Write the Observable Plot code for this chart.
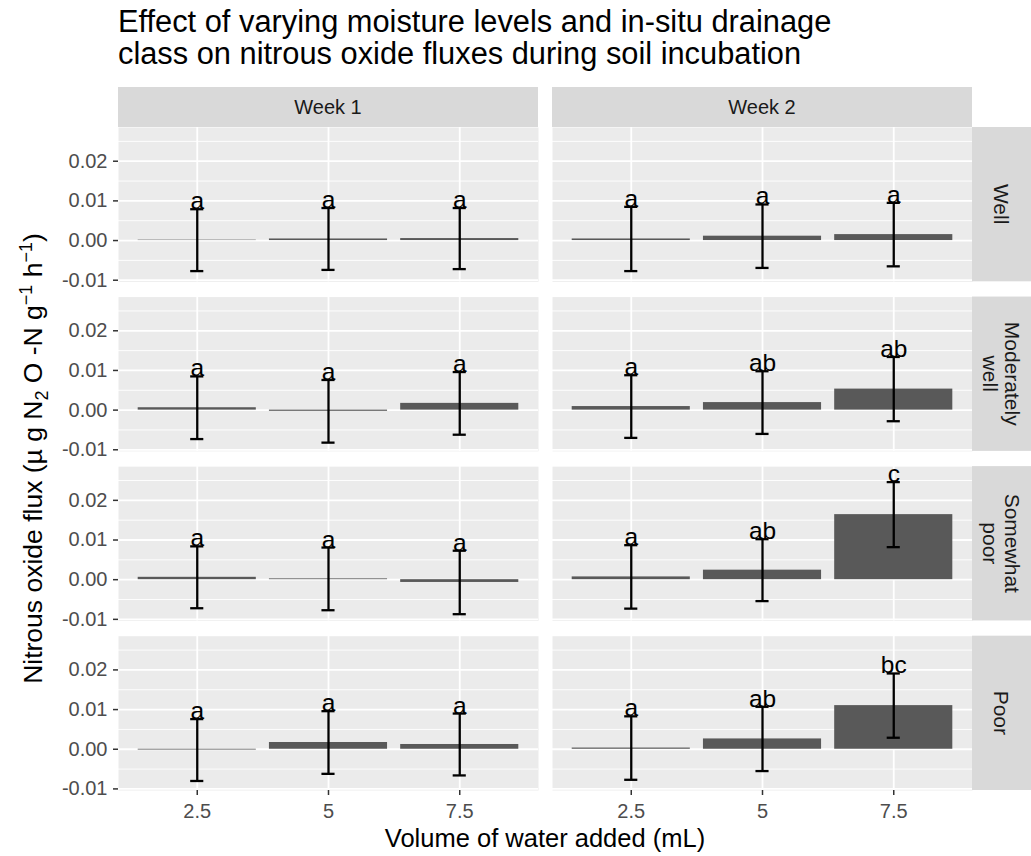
<!DOCTYPE html>
<html>
<head>
<meta charset="utf-8">
<script src="https://cdn.jsdelivr.net/npm/d3@7"></script>
<script src="https://cdn.jsdelivr.net/npm/@observablehq/plot@0.6"></script>
<style>
  body { margin: 0; background: #ffffff; font-family: "Liberation Sans", Arial, sans-serif; }
  #title { height: 80px; box-sizing: border-box; padding: 6px 0 0 118px; font-size: 30.8px; line-height: 32px; color: #000; white-space: nowrap; }
  #chart svg { display: block; }
</style>
</head>
<body>
<div id="title">Effect of varying moisture levels and in-situ drainage<br>class on nitrous oxide fluxes during soil incubation</div>
<div id="chart"></div>
<script>
// ---- data ----
const weeks = ["Week 1", "Week 2"];
const drainage = ["Well", "Moderately well", "Somewhat poor", "Poor"];
const drainageStrip = [["Well"], ["Moderately", "well"], ["Somewhat", "poor"], ["Poor"]];
const volumes = ["2.5", "5", "7.5"];

// order: drainage class (Well, Moderately well, Somewhat poor, Poor) x volume (2.5, 5, 7.5)
const week1Mean = [0.0001, 0.0004, 0.0005,  0.0006, -0.0003, 0.0017,  0.0006, 0.0002, -0.0007,  -0.0002, 0.0017, 0.0012];
const week1SE   = [0.0078, 0.0078, 0.0077,  0.0079, 0.0079, 0.0079,  0.0078, 0.0079, 0.0080,  0.0078, 0.0079, 0.0078];
const week1Letters = ["a", "a", "a",  "a", "a", "a",  "a", "a", "a",  "a", "a", "a"];

const week2Mean = [0.0004, 0.0011, 0.0015,  0.0009, 0.0019, 0.0053,  0.0007, 0.0024, 0.0164,  0.0003, 0.0026, 0.0110];
const week2SE   = [0.0081, 0.0080, 0.0080,  0.0079, 0.0079, 0.0081,  0.0080, 0.0078, 0.0082,  0.0080, 0.0081, 0.0081];
const week2Letters = ["a", "a", "a",  "a", "ab", "ab",  "a", "ab", "c",  "a", "ab", "bc"];

const yMajorTicks = [-0.01, 0, 0.01, 0.02];
const yMinorTicks = [-0.005, 0.005, 0.015, 0.025];

// ---- table ----
const rows = [];
[[weeks[0], week1Mean, week1SE, week1Letters], [weeks[1], week2Mean, week2SE, week2Letters]].forEach(([w, m, s, l]) => {
  drainage.forEach((d, i) => {
    volumes.forEach((v, j) => {
      const k = i * volumes.length + j;
      rows.push({week: w, drainage: d, volume: v, mean: m[k], se: s[k], letter: l[k],
                 lower: m[k] - s[k], upper: m[k] + s[k]});
    });
  });
});

const FONT = "Liberation Sans, Arial, sans-serif";
const W = 1031, H = 776;

const plot = Plot.plot({
  width: W,
  height: H,
  marginLeft: 118,
  marginRight: 59,
  marginTop: 47,
  marginBottom: 66,
  style: {fontFamily: FONT, background: "transparent", color: "#000", overflow: "visible"},
  fx: {domain: weeks, paddingInner: 0.0323, paddingOuter: 0, round: false, axis: null, label: null},
  fy: {domain: drainage, paddingInner: 0.09, paddingOuter: 0, round: false, axis: null, label: null},
  x: {domain: volumes, paddingInner: 0.1, paddingOuter: 0.15, round: false, label: null},
  y: {domain: [-0.0104, 0.0285], label: null},
  marks: [
    Plot.frame({fill: "#EBEBEB", stroke: "none"}),
    Plot.gridY(yMinorTicks, {stroke: "#ffffff", strokeOpacity: 1, strokeWidth: 0.9}),
    Plot.gridY(yMajorTicks, {stroke: "#ffffff", strokeOpacity: 1, strokeWidth: 1.8}),
    Plot.gridX({stroke: "#ffffff", strokeOpacity: 1, strokeWidth: 1.8}),
    Plot.barY(rows, {fx: "week", fy: "drainage", x: "volume", y: "mean", fill: "#595959"}),
    Plot.ruleX(rows, {fx: "week", fy: "drainage", x: "volume", y1: "lower", y2: "upper", stroke: "#000", strokeWidth: 2.3}),
    Plot.tickY(rows, {fx: "week", fy: "drainage", x: "volume", y: "lower", stroke: "#000", strokeWidth: 2.3, insetLeft: 52.5, insetRight: 52.5}),
    Plot.tickY(rows, {fx: "week", fy: "drainage", x: "volume", y: "upper", stroke: "#000", strokeWidth: 2.3, insetLeft: 52.5, insetRight: 52.5}),
    Plot.text(rows, {fx: "week", fy: "drainage", x: "volume", y: "upper", text: "letter", lineAnchor: "bottom", fontSize: 24.5, fill: "#000"}),
    Plot.axisY({ticks: yMajorTicks, tickSize: 5, tickPadding: 6, fontSize: 20, stroke: "#333333", strokeWidth: 1.5, fill: "#4D4D4D", tickFormat: d => d.toFixed(2), label: null}),
    Plot.axisX({tickSize: 5, tickPadding: 8, fontSize: 20, stroke: "#333333", strokeWidth: 1.5, fill: "#4D4D4D", label: null})
  ]
});

document.getElementById("chart").appendChild(plot);

// ---- strips and axis titles, positioned with the plot's own facet scales ----
function bandOf(s) {
  if (typeof s.apply === "function") return v => s.apply(v);
  const b = d3.scaleBand().domain(s.domain).range(s.range)
    .paddingInner(s.paddingInner ?? 0).paddingOuter(s.paddingOuter ?? 0).align(s.align ?? 0.5);
  return v => b(v);
}
const fxS = plot.scale("fx"), fyS = plot.scale("fy");
const fxF = bandOf(fxS), fyF = bandOf(fyS);
const bwX = fxS.bandwidth, bwY = fyS.bandwidth;
const svg = d3.select(plot);
const g = svg.append("g").attr("font-family", FONT);

const topY = fyF(drainage[0]);
const bottomY = fyF(drainage[drainage.length - 1]) + bwY;
const leftX = fxF(weeks[0]);
const rightX = fxF(weeks[weeks.length - 1]) + bwX;
const stripH = 40;

weeks.forEach(w => {
  const x0 = fxF(w);
  g.append("rect").attr("x", x0).attr("y", topY - stripH).attr("width", bwX).attr("height", stripH).attr("fill", "#D9D9D9");
  g.append("text").attr("x", x0 + bwX / 2).attr("y", topY - stripH / 2).attr("dy", "0.35em")
    .attr("text-anchor", "middle").attr("font-size", 20).attr("fill", "#1A1A1A").text(w);
});

drainage.forEach((d, i) => {
  const y0 = fyF(d);
  g.append("rect").attr("x", rightX).attr("y", y0).attr("width", W - rightX).attr("height", bwY).attr("fill", "#D9D9D9");
  const lines = drainageStrip[i];
  const cx = rightX + (W - rightX) / 2, cy = y0 + bwY / 2;
  const t = g.append("text").attr("transform", `translate(${cx},${cy}) rotate(90)`)
    .attr("text-anchor", "middle").attr("font-size", 21).attr("fill", "#1A1A1A");
  const lh = 22;
  lines.forEach((ln, k) => {
    t.append("tspan").attr("x", 0).attr("y", (k - (lines.length - 1) / 2) * lh).attr("dy", "0.35em").text(ln);
  });
});

// x-axis title
g.append("text").attr("x", (leftX + rightX) / 2).attr("y", H - 9)
  .attr("text-anchor", "middle").attr("font-size", 25.5).attr("fill", "#000").text("Volume of water added (mL)");

// y-axis title with sub/superscripts
const yt = g.append("text").attr("transform", `translate(42,${(topY + bottomY) / 2}) rotate(-90)`)
  .attr("text-anchor", "middle").attr("font-size", 26.5).attr("fill", "#000");
yt.append("tspan").text("Nitrous oxide flux (\u00B5 g N");
yt.append("tspan").attr("font-size", 18).attr("dy", 6).text("2");
yt.append("tspan").attr("dy", -6).text(" O -N g");
yt.append("tspan").attr("font-size", 18).attr("dy", -10).text("\u22121");
yt.append("tspan").attr("dy", 10).text(" h");
yt.append("tspan").attr("font-size", 18).attr("dy", -10).text("\u22121");
yt.append("tspan").attr("dy", 10).text(")");
</script>
</body>
</html>
